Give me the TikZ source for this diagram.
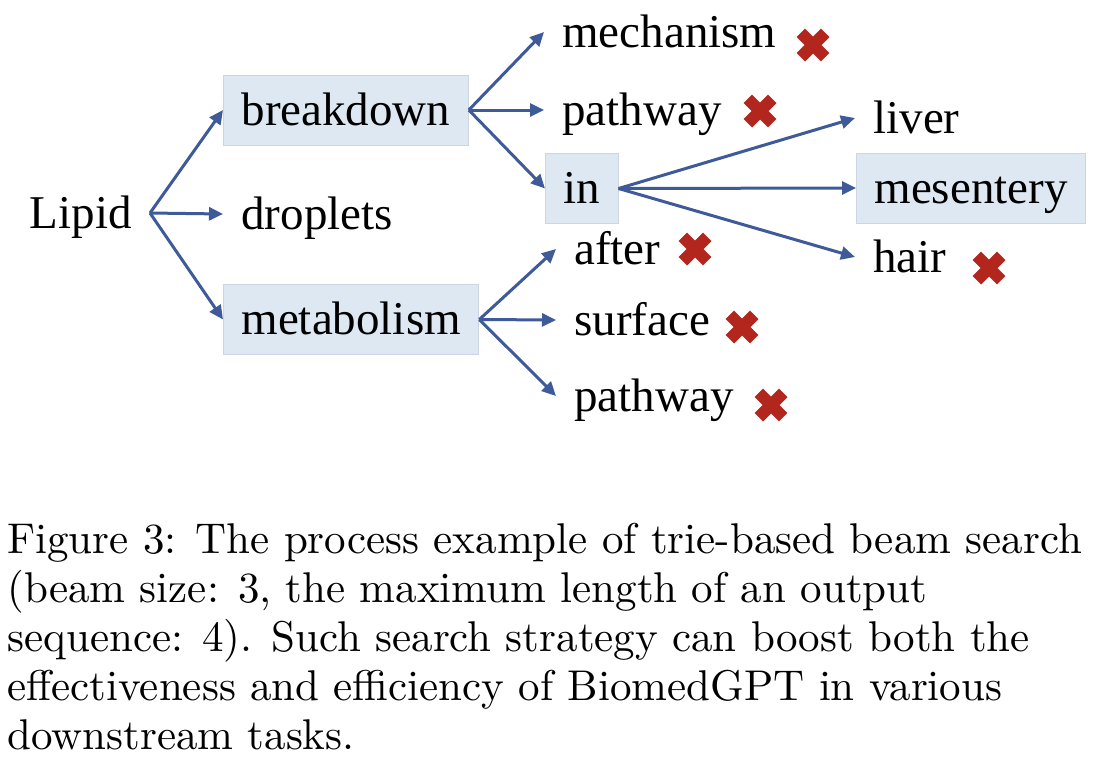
\documentclass[tikz,border=0pt]{standalone}
\usepackage{fontspec}
\usetikzlibrary{arrows.meta}
\newfontfamily\diagfont{Liberation Serif}
\newfontfamily\capfont{lmroman10-regular.otf}
\definecolor{branchblue}{RGB}{62,90,152}
\definecolor{boxfill}{RGB}{222,232,243}
\definecolor{boxline}{RGB}{204,213,224}
\definecolor{rejectred}{RGB}{178,38,30}
\def\rejectmark(#1){\draw[rejectred, line width=6pt, shift={(#1)}] (-6.1pt,-6.1pt) -- (6.1pt,6.1pt) (-6.1pt,6.1pt) -- (6.1pt,-6.1pt);}
\tikzset{
	word/.style={font=\diagfont\fontsize{23.5}{28}\selectfont, inner xsep=9pt, inner ysep=0pt, text height=15pt, text depth=0pt, anchor=west},
	chosen/.style={word, fill=boxfill, draw=boxline, line width=0.5pt, minimum height=35pt},
	branch/.style={draw=branchblue, line width=1.5pt, -{Triangle[length=7pt,width=6.5pt]}}
}
\begin{document}
\begin{tikzpicture}[x=0.5pt, y=-0.5pt]
		%%%%% START %%%%%
		\useasboundingbox (0, 0) rectangle (1102, 772);
		
		\node[word, anchor=east] (lipid) at (150, 213) {Lipid};
		
		\node[chosen] (breakdown) at (223, 110) {breakdown};
		\node[word] (droplets) at (223, 214) {droplets};
		\node[chosen] (metabolism) at (223, 319.5) {metabolism};
		
		\node[word] (mechanism) at (544, 32) {mechanism};
		\node[word] (pathway) at (544, 110) {pathway};
		\node[chosen] (in) at (545, 188.5) {in};
		
		\node[word] (after) at (556, 249) {after};
		\node[word] (surface) at (556, 320) {surface};
		\node[word] (pathwayb) at (556, 396) {pathway};
		
		\node[word] (liver) at (855, 118) {liver};
		\node[chosen] (mesentery) at (856, 188) {mesentery};
		\node[word] (hair) at (855, 257) {hair};
		
		\draw[branch] (lipid.east) -- (breakdown.west);
		\draw[branch] (lipid.east) -- (droplets.west);
		\draw[branch] (lipid.east) -- (metabolism.west);
		
		\draw[branch] (breakdown.east) -- (mechanism.west);
		\draw[branch] (breakdown.east) -- (pathway.west);
		\draw[branch] (breakdown.east) -- (in.west);
		
		\draw[branch] (metabolism.east) -- (after.west);
		\draw[branch] (metabolism.east) -- (surface.west);
		\draw[branch] (metabolism.east) -- (pathwayb.west);
		
		\draw[branch] (in.east) -- (liver.west);
		\draw[branch] (in.east) -- (mesentery.west);
		\draw[branch] (in.east) -- (hair.west);
		
		\rejectmark(813, 45);
		\rejectmark(760, 111);
		\rejectmark(695, 249);
		\rejectmark(742, 327);
		\rejectmark(771, 405);
		\rejectmark(989, 268);
		
		\node[anchor=base west, align=left, inner sep=0pt, font=\capfont\fontsize{21.5}{24.5}\selectfont] (caption) at (7, 749)
			{Figure 3: The process example of trie-based beam search\\
			(beam size: 3, the maximum length of an output\\
			sequence: 4). Such search strategy can boost both the\\
			effectiveness and efficiency of BiomedGPT in various\\
			downstream tasks.};
		
		%%%%% END %%%%%
	\end{tikzpicture}
\end{document}
